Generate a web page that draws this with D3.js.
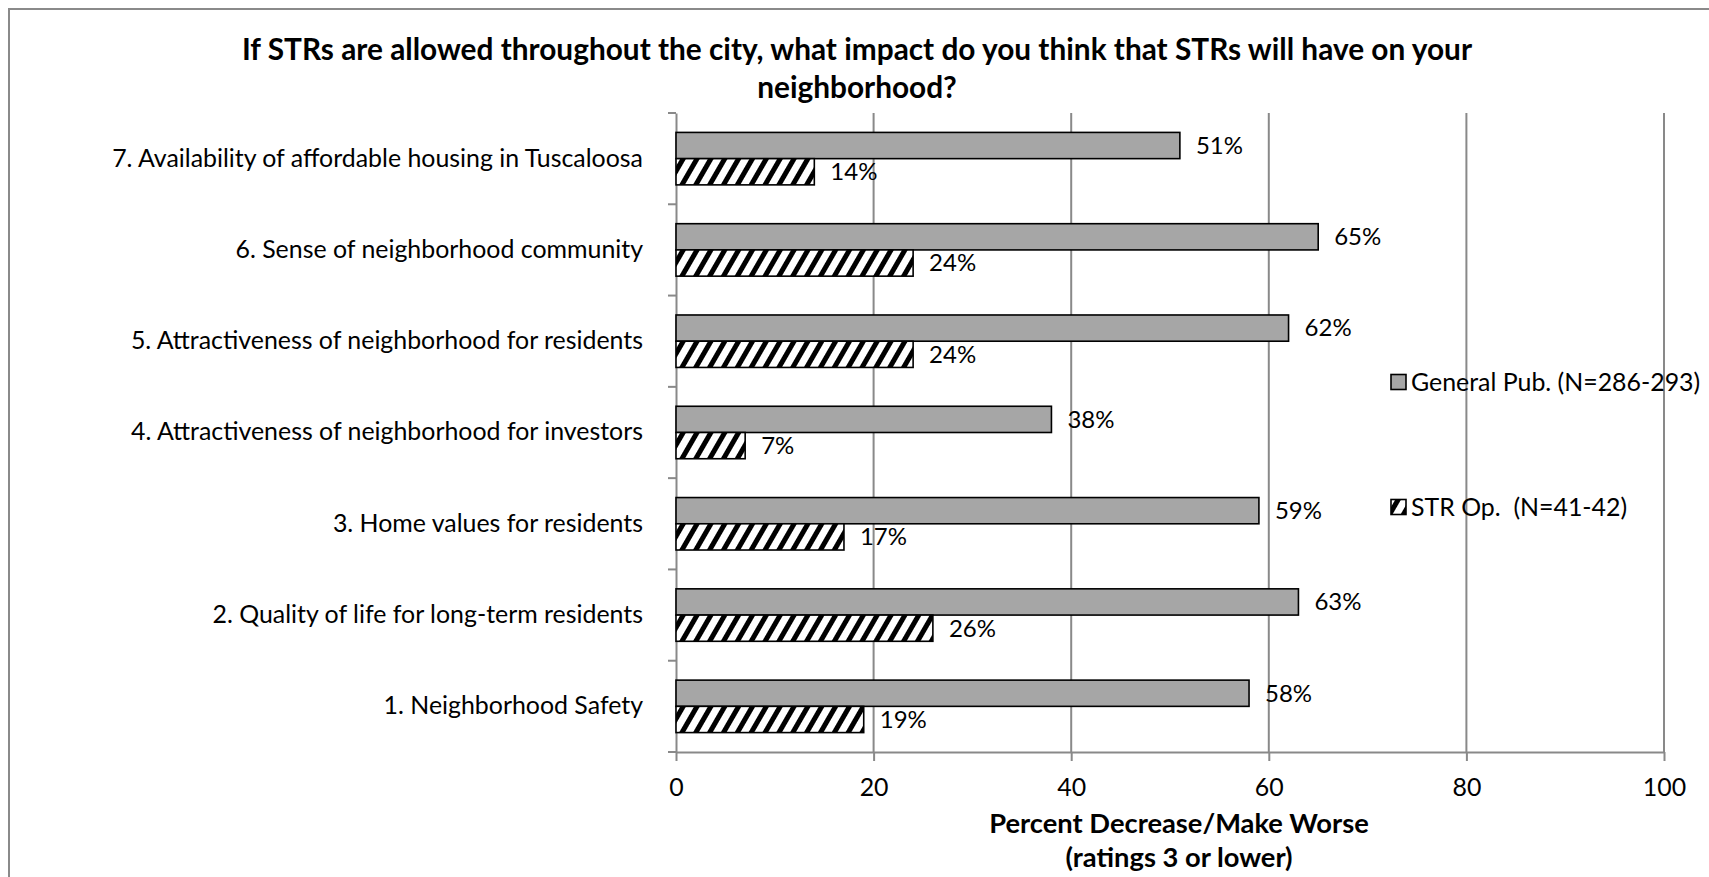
<!DOCTYPE html>
<html>
<head>
<meta charset="utf-8">
<script src="https://cdn.jsdelivr.net/npm/d3@7"></script>
<style>
  body { margin: 0; background: #fff; }
  svg { display: block; }
  text { font-family: Lato, "Open Sans", sans-serif; fill: #000; }
</style>
</head>
<body>
<svg id="chart" width="1709" height="877"></svg>
<script>
// Survey items, listed bottom (1) to top (7)
const categories = [
  "1. Neighborhood Safety",
  "2. Quality of life for long-term residents",
  "3. Home values for residents",
  "4. Attractiveness of neighborhood for investors",
  "5. Attractiveness of neighborhood for residents",
  "6. Sense of neighborhood community",
  "7. Availability of affordable housing in Tuscaloosa"
];
// Percent answering decrease / make worse
const generalPublic = [58, 63, 59, 38, 62, 65, 51];
const strOperators  = [19, 26, 17, 7, 24, 24, 14];
const seriesNames = ["General Pub. (N=286-293)", "STR Op.  (N=41-42)"];
const xTicks = [0, 20, 40, 60, 80, 100];
const titleLines = [
  "If STRs are allowed throughout the city, what impact do you think that STRs will have on your",
  "neighborhood?"
];
const axisTitleLines = ["Percent Decrease/Make Worse", "(ratings 3 or lower)"];

const svg = d3.select("#chart");
const W = 1709, H = 877;
const plot = { left: 676, right: 1664, top: 113, bottom: 752 };
const gridColor = "#898989";
const labelSize = 24.9;

// outer chart frame
svg.append("rect")
  .attr("x", 9).attr("y", 9).attr("width", W + 20).attr("height", H + 20)
  .attr("fill", "#fff").attr("stroke", "#8a8a8a").attr("stroke-width", 2);

// hatch for the STR operator series
const defs = svg.append("defs");
const hatch = defs.append("pattern")
  .attr("id", "hatch").attr("patternUnits", "userSpaceOnUse")
  .attr("width", 12).attr("height", 12)
  .attr("patternTransform", "rotate(30)");
hatch.append("rect").attr("width", 12).attr("height", 12).attr("fill", "#fff");
hatch.append("rect").attr("x", 0).attr("width", 5).attr("height", 12).attr("fill", "#000");

const x = d3.scaleLinear().domain([0, 100]).range([plot.left, plot.right]);
const y = d3.scaleBand()
  .domain(categories.slice().reverse())
  .range([plot.top, plot.bottom])
  .paddingInner(0).paddingOuter(0);
const inner = d3.scaleBand()
  .domain(["gen", "str"])
  .range([0, y.bandwidth()])
  .paddingInner(0).paddingOuter(0.74);

const rows = categories.map((c, i) => ({ cat: c, gen: generalPublic[i], str: strOperators[i] }));

// vertical gridlines
svg.append("g").selectAll("line")
  .data(xTicks.filter(t => t > 0))
  .join("line")
  .attr("x1", d => x(d)).attr("x2", d => x(d))
  .attr("y1", plot.top).attr("y2", plot.bottom)
  .attr("stroke", gridColor).attr("stroke-width", 2);

// x axis
const xAxis = svg.append("g")
  .attr("transform", `translate(0,${plot.bottom})`)
  .call(d3.axisBottom(x).tickValues(xTicks).tickSize(9).tickPadding(17).tickSizeOuter(0));
xAxis.select(".domain").attr("stroke", gridColor).attr("stroke-width", 2);
xAxis.selectAll(".tick line").attr("stroke", gridColor).attr("stroke-width", 2);
xAxis.selectAll(".tick text")
  .attr("font-size", labelSize).attr("font-family", "Lato, sans-serif").attr("fill", "#000");

// y axis with labels at band centres and ticks on band edges
const yAxis = svg.append("g")
  .attr("transform", `translate(${plot.left},0)`)
  .call(d3.axisLeft(y).tickSize(0).tickPadding(33));
yAxis.select(".domain").attr("stroke", gridColor).attr("stroke-width", 2);
yAxis.selectAll(".tick text")
  .attr("font-size", labelSize).attr("font-family", "Lato, sans-serif").attr("fill", "#000");
const edges = y.domain().map(d => y(d)).concat([y(y.domain()[y.domain().length - 1]) + y.bandwidth()]);
yAxis.append("g").selectAll("line")
  .data(edges)
  .join("line")
  .attr("x1", -8).attr("x2", 0)
  .attr("y1", d => d).attr("y2", d => d)
  .attr("stroke", gridColor).attr("stroke-width", 2);

// bars
const groups = svg.append("g").selectAll("g")
  .data(rows)
  .join("g")
  .attr("transform", d => `translate(0,${y(d.cat)})`);

groups.append("rect")
  .attr("x", x(0))
  .attr("y", inner("gen"))
  .attr("width", d => x(d.gen) - x(0))
  .attr("height", inner.bandwidth())
  .attr("fill", "#a6a6a6").attr("stroke", "#000").attr("stroke-width", 1.6);

groups.append("rect")
  .attr("x", x(0))
  .attr("y", inner("str"))
  .attr("width", d => x(d.str) - x(0))
  .attr("height", inner.bandwidth())
  .attr("fill", "url(#hatch)").attr("stroke", "#000").attr("stroke-width", 1.6);

// value labels
const fmt = v => `${v}%`;
groups.append("text")
  .attr("x", d => x(d.gen) + 16)
  .attr("y", inner("gen") + inner.bandwidth() / 2)
  .attr("dy", "0.35em")
  .attr("font-size", 24)
  .text(d => fmt(d.gen));
groups.append("text")
  .attr("x", d => x(d.str) + 16)
  .attr("y", inner("str") + inner.bandwidth() / 2)
  .attr("dy", "0.35em")
  .attr("font-size", 24)
  .text(d => fmt(d.str));

// title
svg.append("text")
  .attr("x", 857).attr("y", 60)
  .attr("text-anchor", "middle")
  .attr("font-size", 29.8).attr("font-weight", "bold")
  .selectAll("tspan")
  .data(titleLines)
  .join("tspan")
  .attr("x", 857)
  .attr("dy", (d, i) => i === 0 ? 0 : 38)
  .text(d => d);

// x axis title
svg.append("text")
  .attr("x", (plot.left + plot.right) / 2 + 9).attr("y", 833)
  .attr("text-anchor", "middle")
  .attr("font-size", 27.3).attr("font-weight", "bold")
  .selectAll("tspan")
  .data(axisTitleLines)
  .join("tspan")
  .attr("x", (plot.left + plot.right) / 2 + 9)
  .attr("dy", (d, i) => i === 0 ? 0 : 34)
  .text(d => d);

// legend
const legend = svg.append("g").attr("transform", "translate(1391,0)");
const legendRows = [
  { name: seriesNames[0], fill: "#a6a6a6", cy: 382 },
  { name: seriesNames[1], fill: "url(#hatch)", cy: 507 }
];
const li = legend.selectAll("g").data(legendRows).join("g")
  .attr("transform", d => `translate(0,${d.cy})`);
li.append("rect")
  .attr("x", 0).attr("y", -7.5).attr("width", 15).attr("height", 15)
  .attr("fill", d => d.fill).attr("stroke", "#000").attr("stroke-width", 1.6);
li.append("text")
  .attr("x", 20).attr("dy", "0.35em")
  .attr("font-size", labelSize)
  .style("white-space", "pre")
  .text(d => d.name);
</script>
</body>
</html>
